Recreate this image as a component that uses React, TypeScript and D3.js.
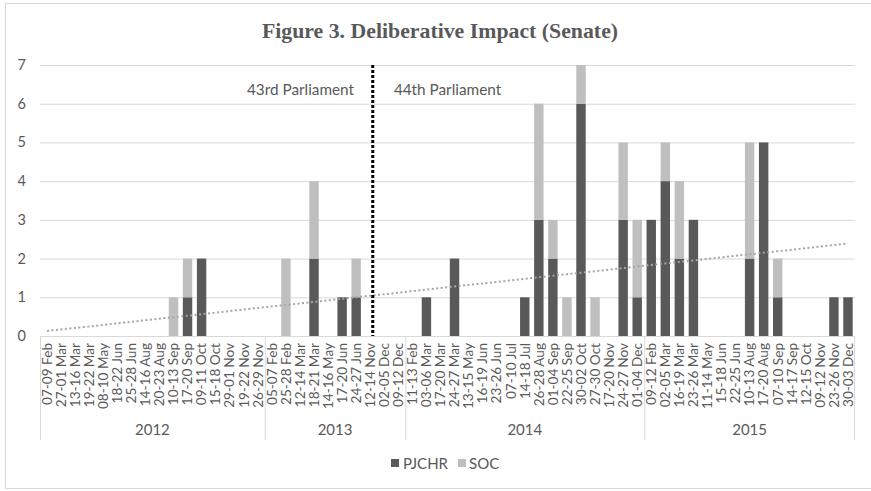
import React from "react";
import * as d3 from "d3";

const years = ["2012", "2013", "2014", "2015"];
const sessions2012 = ["07-09 Feb", "27-01 Mar", "13-16 Mar", "19-22 Mar", "08-10 May", "18-22 Jun", "25-28 Jun", "14-16 Aug", "20-23 Aug", "10-13 Sep", "17-20 Sep", "09-11 Oct", "15-18 Oct", "29-01 Nov", "19-22 Nov", "26-29 Nov"];
const sessions2013 = ["05-07 Feb", "25-28 Feb", "12-14 Mar", "18-21 Mar", "14-16 May", "17-20 Jun", "24-27 Jun", "12-14 Nov", "02-05 Dec", "09-12 Dec"];
const sessions2014 = ["11-13 Feb", "03-06 Mar", "17-20 Mar", "24-27 Mar", "13-15 May", "16-19 Jun", "23-26 Jun", "07-10 Jul", "14-18 Jul", "26-28 Aug", "01-04 Sep", "22-25 Sep", "30-02 Oct", "27-30 Oct", "17-20 Nov", "24-27 Nov", "01-04 Dec"];
const sessions2015 = ["09-12 Feb", "02-05 Mar", "16-19 Mar", "23-26 Mar", "11-14 May", "15-18 Jun", "22-25 Jun", "10-13 Aug", "17-20 Aug", "07-10 Sep", "14-17 Sep", "12-15 Oct", "09-12 Nov", "23-26 Nov", "30-03 Dec"];

const pjchr2012 = [0, 0, 0, 0, 0, 0, 0, 0, 0, 0, 1, 2, 0, 0, 0, 0];
const soc2012 = [0, 0, 0, 0, 0, 0, 0, 0, 0, 1, 1, 0, 0, 0, 0, 0];
const pjchr2013 = [0, 0, 0, 2, 0, 1, 1, 0, 0, 0];
const soc2013 = [0, 2, 0, 2, 0, 0, 1, 0, 0, 0];
const pjchr2014 = [0, 1, 0, 2, 0, 0, 0, 0, 1, 3, 2, 0, 6, 0, 0, 3, 1];
const soc2014 = [0, 0, 0, 0, 0, 0, 0, 0, 0, 3, 1, 1, 1, 1, 0, 2, 2];
const pjchr2015 = [3, 4, 2, 3, 0, 0, 0, 2, 5, 1, 0, 0, 0, 1, 1];
const soc2015 = [0, 1, 2, 0, 0, 0, 0, 3, 0, 1, 0, 0, 0, 0, 0];

const yTicks = [0, 1, 2, 3, 4, 5, 6, 7];
const seriesNames = ["PJCHR", "SOC"];
const parliamentLabels = ["43rd Parliament", "44th Parliament"];
const title = "Figure 3. Deliberative Impact (Senate)";

const W = 871, H = 491;
const M = { left: 40, right: 855, top: 65, bottom: 336 };
const colors = { PJCHR: "#595959", SOC: "#bfbfbf" };
const textColor = "#595959";
const gridColor = "#d9d9d9";
const labelFont = "Lato, 'Open Sans', sans-serif";

export default function App() {
  const groups = [sessions2012, sessions2013, sessions2014, sessions2015];
  const pj = [pjchr2012, pjchr2013, pjchr2014, pjchr2015];
  const so = [soc2012, soc2013, soc2014, soc2015];
  const rows: { key: string; label: string; year: string; PJCHR: number; SOC: number; idx: number }[] = [];
  groups.forEach((g, gi) =>
    g.forEach((lab, i) =>
      rows.push({ key: years[gi] + " " + lab, label: lab, year: years[gi], PJCHR: pj[gi][i], SOC: so[gi][i], idx: rows.length })
    )
  );

  const x = d3.scaleBand<string>().domain(rows.map((r) => r.key)).range([M.left, M.right]).paddingInner(0.33).paddingOuter(0.165);
  const xb = d3.scaleBand<string>().domain(rows.map((r) => r.key)).range([M.left, M.right]);
  const y = d3.scaleLinear().domain([0, 7]).range([M.bottom, M.top]);

  const stack = d3.stack<any>().keys(seriesNames)(rows as any);

  // linear trendline (least squares) of totals
  const xs = rows.map((r) => r.idx + 1);
  const ys = rows.map((r) => r.PJCHR + r.SOC);
  const mx = d3.mean(xs)!, my = d3.mean(ys)!;
  const slope = d3.sum(xs.map((v, i) => (v - mx) * (ys[i] - my))) / d3.sum(xs.map((v) => (v - mx) ** 2));
  const intercept = my - slope * mx;
  const cx = (k: string) => xb(k)! + xb.bandwidth() / 2;
  const trend = d3.line<any>()
    .x((r) => cx(r.key))
    .y((r) => y(intercept + slope * (r.idx + 1)));

  let start = 0;
  const yearGroups = groups.map((g, gi) => {
    const s = start;
    start += g.length;
    return { year: years[gi], x0: xb(rows[s].key)!, x1: xb(rows[s + g.length - 1].key)! + xb.bandwidth() };
  });

  const divKey = rows[23].key;
  const divX = xb(divKey)! + xb.bandwidth() * 0.68;

  return (
    <svg width={W} height={H} style={{ position: "absolute", left: 0, top: 0, background: "#fff" }}>
      <rect x={5.5} y={3.5} width={880} height={485} fill="#fff" stroke={gridColor} />
      <text x={440} y={38} textAnchor="middle" fontFamily="'Liberation Serif', 'Times New Roman', serif" fontWeight="bold" fontSize={21.8} fill={textColor}>{title}</text>

      {yTicks.map((t) => (
        <g key={t}>
          {t > 0 && <line x1={M.left} x2={M.right} y1={y(t) + 0.5} y2={y(t) + 0.5} stroke={gridColor} />}
          <text x={26} y={y(t) + 5} textAnchor="end" fontFamily={labelFont} fontSize={14.5} fill={textColor}>{t}</text>
        </g>
      ))}

      {stack.map((s) =>
        s.map((d: any, i: number) =>
          d[1] - d[0] > 0 ? (
            <rect key={s.key + i} x={x(rows[i].key)} width={x.bandwidth()} y={y(d[1])} height={y(d[0]) - y(d[1])} fill={(colors as any)[s.key]} />
          ) : null
        )
      )}

      <line x1={M.left} x2={M.right} y1={M.bottom + 0.5} y2={M.bottom + 0.5} stroke={gridColor} />

      <path d={trend(rows)!} fill="none" stroke="#a6a6a6" strokeWidth={2} strokeDasharray="2 2.5" />

      <line x1={divX} x2={divX} y1={M.top} y2={M.bottom} stroke="#000" strokeWidth={3} strokeDasharray="3 2" />
      <text x={300.5} y={95} textAnchor="middle" fontFamily={labelFont} fontSize={15.3} fill={textColor}>{parliamentLabels[0]}</text>
      <text x={447.5} y={95} textAnchor="middle" fontFamily={labelFont} fontSize={15.3} fill={textColor}>{parliamentLabels[1]}</text>

      {rows.map((r) => (
        <text key={r.key} transform={`translate(${cx(r.key) + 4.8},${M.bottom + 7}) rotate(-90)`} textAnchor="end" fontFamily={labelFont} fontSize={13.6} fill={textColor}>{r.label}</text>
      ))}

      {yearGroups.map((g, i) => (
        <g key={g.year}>
          <line x1={g.x0 + 0.5} x2={g.x0 + 0.5} y1={M.bottom} y2={440} stroke={gridColor} />
          {i === yearGroups.length - 1 && <line x1={g.x1 - 0.5} x2={g.x1 - 0.5} y1={M.bottom} y2={440} stroke={gridColor} />}
          <text x={(g.x0 + g.x1) / 2} y={435} textAnchor="middle" fontFamily={labelFont} fontSize={15} fill={textColor}>{g.year}</text>
        </g>
      ))}

      <g fontFamily={labelFont} fontSize={15} fill={textColor}>
        <rect x={391} y={459} width={8} height={8} fill={colors.PJCHR} />
        <text x={403} y={469}>{seriesNames[0]}</text>
        <rect x={458} y={459} width={8} height={8} fill={colors.SOC} />
        <text x={469} y={469}>{seriesNames[1]}</text>
      </g>
    </svg>
  );
}
